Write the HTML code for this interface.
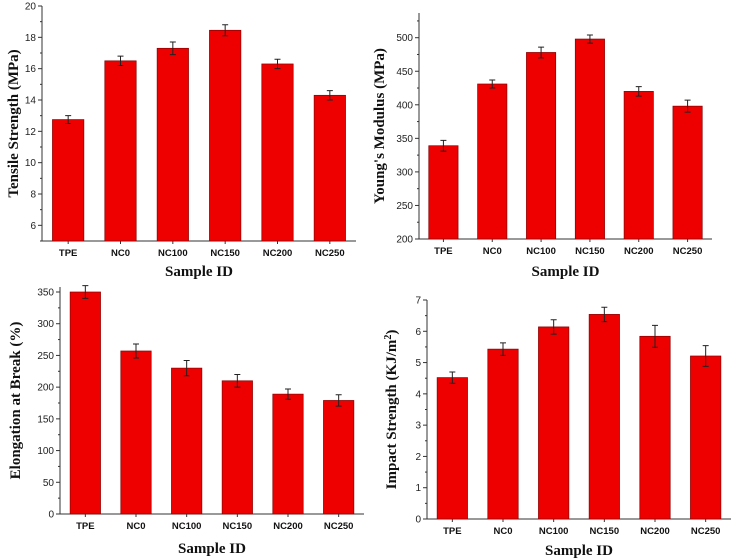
<!DOCTYPE html>
<html><head><meta charset="utf-8"><style>
html,body{margin:0;padding:0;background:#fff;}
svg{display:block;}
.tk{font-family:"Liberation Sans",sans-serif;font-size:10px;fill:#222;}
.cat{font-family:"Liberation Sans",sans-serif;font-size:9.5px;font-weight:bold;fill:#111;}
.ttl{font-family:"Liberation Serif",serif;font-size:15px;font-weight:bold;fill:#111;}
</style></head><body>
<svg id="chart" width="733" height="560" viewBox="0 0 733 560" xmlns="http://www.w3.org/2000/svg"></svg>
<script>
const categories = ["TPE","NC0","NC100","NC150","NC200","NC250"];
const tensileValues = [12.75,16.5,17.3,18.45,16.3,14.3];
const tensileErrors = [0.25,0.3,0.4,0.35,0.3,0.3];
const tensileTicks = [6,8,10,12,14,16,18,20];
const modulusValues = [339,431,478,498,420,398];
const modulusErrors = [8,6,8,6,7,9];
const modulusTicks = [200,250,300,350,400,450,500];
const elongValues = [350,257,230,210,189,179];
const elongErrors = [10,11,12,10,8,9];
const elongTicks = [0,50,100,150,200,250,300,350];
const impactValues = [4.52,5.43,6.14,6.54,5.84,5.21];
const impactErrors = [0.18,0.2,0.23,0.23,0.35,0.33];
const impactTicks = [0,1,2,3,4,5,6,7];

const svg = document.getElementById('chart');
const NS = 'http://www.w3.org/2000/svg';
function mk(tag, attrs, parent){
  const e = document.createElementNS(NS, tag);
  for (const k in attrs) e.setAttribute(k, attrs[k]);
  parent.appendChild(e);
  return e;
}

function panel(cfg){
  const g = mk('g', {}, svg);
  
  
  const yScale = v => cfg.y0 - (v - cfg.vmin) / (cfg.vmax - cfg.vmin) * (cfg.y0 - cfg.y1);
  const step = (cfg.x1 - cfg.x0) / categories.length;
  const xScale = i => cfg.x0 + step * (i + 0.5);
  const bw = step * 0.6;
  // axes
  const ya = mk('line', {x1:cfg.x0, y1:cfg.yTop, x2:cfg.x0, y2:cfg.y0, stroke:'#333', 'stroke-width':1}, g);
  
  
  const xa = mk('line', {x1:cfg.x0, y1:cfg.y0, x2:cfg.x1, y2:cfg.y0, stroke:'#333', 'stroke-width':1}, g);
  
  
  // y ticks
  const t = cfg.ticks;
  const d = t[1] - t[0];
  for (let i = 0; i < t.length; i++) {
    const y = yScale(t[i]);
    mk('line', {x1:cfg.x0-4, y1:y, x2:cfg.x0, y2:y, stroke:'#333'}, g);
    const lbl = mk('text', {x:cfg.x0-6, y:y+3.5, 'text-anchor':'end', class:'tk'}, g);
    lbl.textContent = t[i];
    
    
    const ym = yScale(t[i] + d/2);
    if (ym >= cfg.yTop) mk('line', {x1:cfg.x0-2, y1:ym, x2:cfg.x0, y2:ym, stroke:'#333'}, g);
    const yb = yScale(t[i] - d/2);
    if (i === 0 && yb <= cfg.y0) mk('line', {x1:cfg.x0-2, y1:yb, x2:cfg.x0, y2:yb, stroke:'#333'}, g);
  }
  // bars
  for (let i = 0; i < categories.length; i++) {
    const cx = xScale(i);
    const yv = yScale(cfg.values[i]);
    const bar = mk('rect', {x:cx-bw/2, y:yv, width:bw, height:cfg.y0-yv, fill:'#ee0000', stroke:'#8a0000', 'stroke-width':0.7}, g);
    
    
    const e = cfg.errors[i];
    const yh = yScale(cfg.values[i] + e), yl = yScale(cfg.values[i] - e);
    const eb = mk('path', {d:`M${cx},${yh}V${yl}M${cx-3},${yh}H${cx+3}M${cx-3},${yl}H${cx+3}`, stroke:'#222', 'stroke-width':1, fill:'none'}, g);
    
    
    mk('line', {x1:cx, y1:cfg.y0, x2:cx, y2:cfg.y0+3, stroke:'#333'}, g);
    const cl = mk('text', {x:cx, y:cfg.y0+15, 'text-anchor':'middle', class:'cat'}, g);
    cl.textContent = categories[i];
    
    
  }
  const xt = mk('text', {x:(cfg.x0+cfg.x1)/2, y:cfg.xTitleY, 'text-anchor':'middle', class:'ttl'}, g);
  xt.textContent = 'Sample ID';
  
  
  const ytY = (cfg.yTop + cfg.y0)/2;
  const yt = mk('text', {x:cfg.yTitleX, y:ytY, 'text-anchor':'middle', class:'ttl', transform:`rotate(-90 ${cfg.yTitleX} ${ytY})`}, g);
  yt.innerHTML = cfg.title;
  
  
}

panel({name:'tensile-strength-chart', x0:42, x1:356, y0:241, y1:6, yTop:6, vmin:5, vmax:20,
  ticks:tensileTicks, values:tensileValues, errors:tensileErrors, xTitleY:276, yTitleX:18,
  title:'Tensile Strength (MPa)'});
panel({name:'youngs-modulus-chart', x0:419, x1:712, y0:239, y1:37.7, yTop:13, vmin:200, vmax:500,
  ticks:modulusTicks, values:modulusValues, errors:modulusErrors, xTitleY:276, yTitleX:384,
  title:"Young's Modulus (MPa)"});
panel({name:'elongation-at-break-chart', x0:60, x1:364, y0:514, y1:292, yTop:287, vmin:0, vmax:350,
  ticks:elongTicks, values:elongValues, errors:elongErrors, xTitleY:553, yTitleX:20,
  title:'Elongation at Break (%)'});
panel({name:'impact-strength-chart', x0:427, x1:731, y0:519, y1:300, yTop:300, vmin:0, vmax:7,
  ticks:impactTicks, values:impactValues, errors:impactErrors, xTitleY:555, yTitleX:396,
  title:'Impact Strength (KJ/m<tspan baseline-shift="super" font-size="10">2</tspan>)'});
</script>
</body></html>
